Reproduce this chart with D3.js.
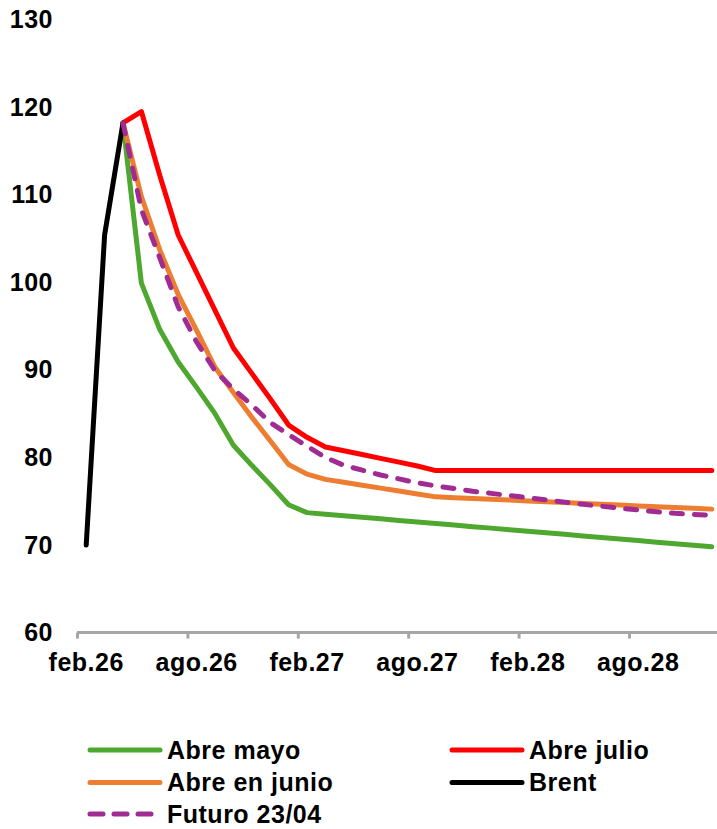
<!DOCTYPE html>
<html><head><meta charset="utf-8">
<script src="https://cdn.jsdelivr.net/npm/d3@7"></script>
<style>
html,body{margin:0;padding:0;background:#fff;}
text{font-family:"Liberation Sans",Arial,sans-serif;font-weight:bold;fill:#000;}
</style></head>
<body>
<svg id="chart" width="717" height="829"></svg>
<script>
const months = ["feb.26","mar.26","abr.26","may.26","jun.26","jul.26","ago.26","sep.26","oct.26","nov.26","dic.26",
  "ene.27","feb.27","mar.27","abr.27","may.27","jun.27","jul.27","ago.27","sep.27","oct.27","nov.27","dic.27",
  "ene.28","feb.28","mar.28","abr.28","may.28","jun.28","jul.28","ago.28","sep.28","oct.28","nov.28","dic.28"];
const tickLabels = ["feb.26","ago.26","feb.27","ago.27","feb.28","ago.28"];
const yTicks = [60,70,80,90,100,110,120,130];

const abreMayo = [null,null,118.2,99.9,94.6,90.9,88.0,85.0,81.4,79.1,76.9,74.6,73.7,
  73.52,73.35,73.17,72.99,72.81,72.64,72.46,72.28,72.10,71.93,71.75,71.57,71.39,71.22,71.04,70.86,70.68,70.51,70.33,70.15,69.98,69.80];
const abreJulio = [null,null,118.2,119.5,112.2,105.4,101.1,96.8,92.5,89.6,86.7,83.7,82.3,81.2,80.77,80.33,79.90,79.47,79.03,78.5,
  78.5,78.5,78.5,78.5,78.5,78.5,78.5,78.5,78.5,78.5,78.5,78.5,78.5,78.5,78.5];
const abreJunio = [null,null,118.2,109.8,103.7,98.6,94.5,90.3,87.4,84.6,81.9,79.2,78.1,77.5,77.17,76.83,76.5,76.17,75.83,75.5,
  75.41,75.31,75.22,75.13,75.03,74.94,74.85,74.75,74.66,74.57,74.47,74.38,74.29,74.19,74.10];
const brent = [70.0,105.4,118.2,null,null,null,null,null,null,null,null,null,null,null,null,null,null,null,null,null,
  null,null,null,null,null,null,null,null,null,null,null,null,null,null,null];
const futuro = [null,null,118.2,108.3,102.8,97.2,93.2,89.9,87.8,86.0,84.0,82.6,81.3,80.0,79.1,78.55,78.0,77.55,77.1,76.75,
  76.45,76.15,75.9,75.65,75.4,75.15,74.9,74.65,74.43,74.2,74.0,73.8,73.62,73.5,73.4];

const seriesNames = ["Abre mayo","Abre julio","Abre en junio","Brent","Futuro 23/04"];
const seriesData = [abreMayo, abreJulio, abreJunio, brent, futuro];
const seriesColors = ["#4EA72E","#FF0000","#ED7D31","#000000","#A02B93"];
const seriesDashed = [false,false,false,false,true];

const svg = d3.select("#chart");
const plotLeft = 77, plotRight = 77 + 35*18.4, plotTop = 19.6, plotBottom = 632.6;
const FONT = "'Liberation Sans',Arial,sans-serif";

const x = d3.scaleBand().domain(months).range([plotLeft, plotRight]).paddingInner(0).paddingOuter(0);
const xEdge = d3.scaleLinear().domain([0, months.length]).range([plotLeft, plotRight]);
const y = d3.scaleLinear().domain([60,130]).range([plotBottom, plotTop]);

function styleText(sel){
  sel.style("font-size","25px").style("font-family",FONT).style("font-weight","bold")
     .style("letter-spacing","0.5px").attr("fill","#000");
}

// Y axis labels
const yAxis = d3.axisLeft(y).tickValues(yTicks).tickSize(0).tickPadding(24).tickFormat(d3.format("d"));
const gy = svg.append("g").attr("transform", `translate(${plotLeft},0)`).call(yAxis);
gy.select(".domain").remove();
styleText(gy.selectAll("text"));

// X axis: tick marks at category boundaries
const gxTicks = svg.append("g").attr("transform", `translate(0,${plotBottom})`)
  .call(d3.axisBottom(xEdge).tickValues(d3.range(0, months.length, 6)).tickSize(6).tickFormat(""));
gxTicks.select(".domain").attr("d", `M${plotLeft},0H${plotRight}`).attr("stroke","#A6A6A6").attr("stroke-width",3);
gxTicks.selectAll(".tick line").attr("stroke","#A6A6A6").attr("stroke-width",3);

// X labels at category centres
const gx = svg.append("g").attr("transform", `translate(0,${plotBottom})`)
  .call(d3.axisBottom(x).tickValues(tickLabels).tickSize(0).tickPadding(21));
gx.select(".domain").remove();
styleText(gx.selectAll("text"));

// Lines
const line = d3.line()
  .x(d => x(d.m) + x.bandwidth()/2)
  .y(d => y(d.v));

seriesData.forEach((vals, i) => {
  const pts = vals.map((v, j) => ({m: months[j], v})).filter(d => d.v !== null);
  svg.append("path")
    .datum(pts)
    .attr("d", line)
    .attr("fill","none")
    .attr("stroke", seriesColors[i])
    .attr("stroke-width", 5)
    .attr("stroke-linejoin","round")
    .attr("stroke-linecap","round")
    .attr("stroke-dasharray", seriesDashed[i] ? "11,12" : null);
});

// Legend
const legendPos = [[90,750],[452,750],[90,782.5],[452,782.5],[90,814]];
seriesNames.forEach((name, i) => {
  const [lx, ly] = legendPos[i];
  const g = svg.append("g");
  g.append("line")
    .attr("x1", lx).attr("x2", lx + 70).attr("y1", ly).attr("y2", ly)
    .attr("stroke", seriesColors[i]).attr("stroke-width", 5)
    .attr("stroke-linecap","round")
    .attr("stroke-dasharray", seriesDashed[i] ? "13,11" : null);
  styleText(g.append("text")
    .attr("x", lx + 77).attr("y", ly).attr("dy","0.35em")
    .text(name));
});
</script>
</body></html>
